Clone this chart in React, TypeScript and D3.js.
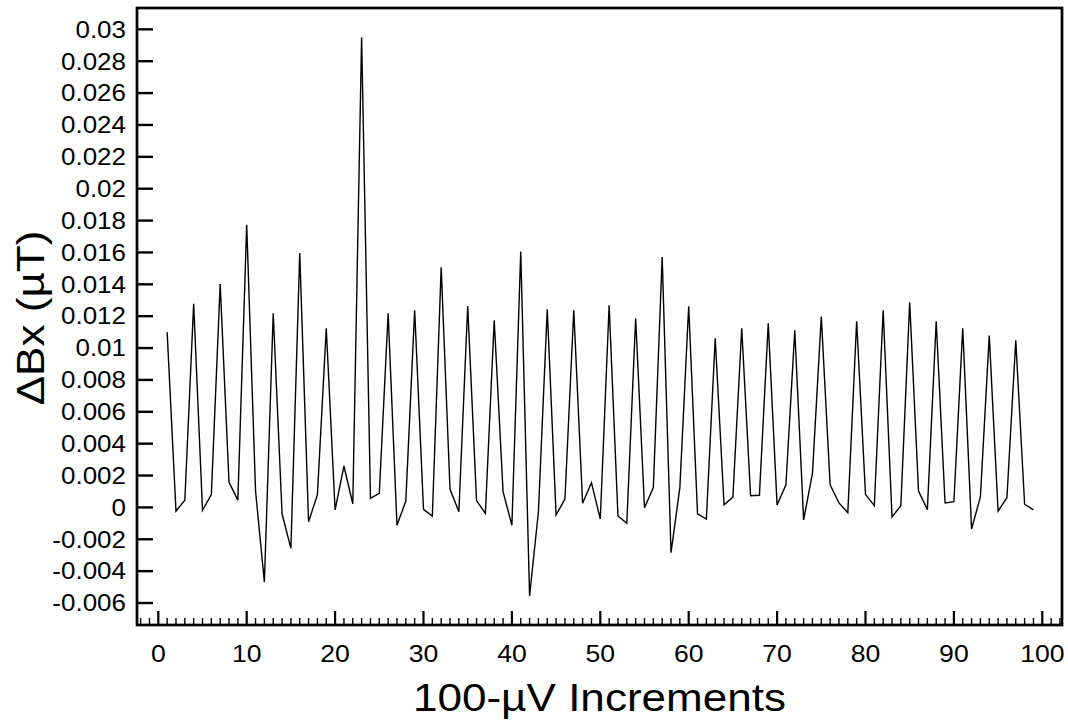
import React from "react";
import * as d3 from "d3";

const xValues: number[] = d3.range(1, 100);
const dBx: number[] = [
  0.0110, -0.00023, 0.00045, 0.01278, -0.00018, 0.0008, 0.01402, 0.00157, 0.00046, 0.01774,
  0.00103, -0.0047, 0.01218, -0.0004, -0.00257, 0.01597, -0.0009, 0.0008, 0.01124, -0.00016,
  0.0026, 0.00023, 0.0295, 0.00057, 0.00088, 0.01218, -0.00112, 0.0004, 0.01237, -0.00012,
  -0.00054, 0.01507, 0.00114, -0.00027, 0.01264, 0.00042, -0.00037, 0.01174, 0.00099, -0.00112,
  0.01605, -0.00556, -0.00027, 0.01243, -0.00048, 0.00053, 0.01237, 0.00026, 0.00155, -0.00073,
  0.01268, -0.00054, -0.001, 0.01187, -0.00002, 0.00124, 0.01571, -0.00284, 0.00124, 0.01262,
  -0.0004, -0.00073, 0.01061, 0.00017, 0.00065, 0.01124, 0.00073, 0.00076, 0.01155, 0.00015,
  0.00142, 0.01111, -0.00079, 0.00214, 0.01197, 0.00142, 0.00028, -0.00033, 0.01168, 0.00082,
  0.00011, 0.01237, -0.0006, 0.00011, 0.01287, 0.00103, -0.00014, 0.01168, 0.00028, 0.00036,
  0.01124, -0.00136, 0.00067, 0.01078, -0.00023, 0.00061, 0.01049, 0.0002, -0.00016,
];
const yTickValues: number[] = d3.range(-0.006, 0.0301, 0.002).map((v) => +v.toFixed(3));
const yTickLabels: string[] = yTickValues.map((v) => String(+v.toFixed(3)));
const xMajorTicks: number[] = d3.range(0, 101, 10);
const xMinorTicks: number[] = d3.range(-2, 103, 1);
const xLabel = "100-\u00B5V Increments";
const yLabel = "\u0394Bx (\u00B5T)";

const W = 1068;
const H = 723;
const left = 137;
const right = 1062;
const top = 8;
const bottom = 625;
const FONT = "'Liberation Sans', Arial, Helvetica, sans-serif";
const SX = 1.13;

export default function App() {
  const x = d3.scaleLinear().domain([-2.41, 102.23]).range([left, right]);
  const y = d3.scaleLinear().domain([-0.00738, 0.03134]).range([bottom, top]);
  const line = d3
    .line<number>()
    .x((_, i) => x(xValues[i]))
    .y((d) => y(d));

  return (
    <svg
      width={W}
      height={H}
      style={{ position: "absolute", left: 0, top: 0, background: "#fff" }}
    >
      <rect x={0} y={0} width={W} height={H} fill="#fff" />
      <path d={line(dBx) || ""} fill="none" stroke="#000" strokeWidth={1.4} strokeLinejoin="miter" />
      {/* y ticks */}
      {yTickValues.map((v, i) => (
        <g key={"yt" + i}>
          <line x1={left} x2={left + 16} y1={y(v)} y2={y(v)} stroke="#000" strokeWidth={2.4} />
          <text
            transform={`translate(126,${y(v) + 8.3}) scale(${SX},1)`}
            textAnchor="end"
            fontFamily={FONT}
            fontSize={23}
            fill="#000"
          >
            {yTickLabels[i]}
          </text>
        </g>
      ))}
      {/* x minor ticks */}
      {xMinorTicks
        .filter((t) => t % 10 !== 0 && x(t) > left + 1 && x(t) < right - 1)
        .map((t) => (
          <line key={"xm" + t} x1={x(t)} x2={x(t)} y1={bottom} y2={bottom - 7} stroke="#000" strokeWidth={1.4} />
        ))}
      {xMajorTicks.map((t) => (
        <g key={"xM" + t}>
          <line x1={x(t)} x2={x(t)} y1={bottom} y2={bottom - 14} stroke="#000" strokeWidth={2.2} />
          <text
            transform={`translate(${x(t)},662) scale(${SX * 0.96},1)`}
            textAnchor="middle"
            fontFamily={FONT}
            fontSize={24.5}
            fill="#000"
          >
            {t}
          </text>
        </g>
      ))}
      <rect
        x={left}
        y={top}
        width={right - left}
        height={bottom - top}
        fill="none"
        stroke="#000"
        strokeWidth={2.7}
      />
      <text
        transform={`translate(${(left + right) / 2},711) scale(${SX},1)`}
        textAnchor="middle"
        fontFamily={FONT}
        fontSize={39}
        fill="#000"
      >
        {xLabel}
      </text>
      <text
        transform={`translate(44,318) rotate(-90) scale(${SX},1)`}
        textAnchor="middle"
        fontFamily={FONT}
        fontSize={39}
        fill="#000"
      >
        {yLabel}
      </text>
    </svg>
  );
}
